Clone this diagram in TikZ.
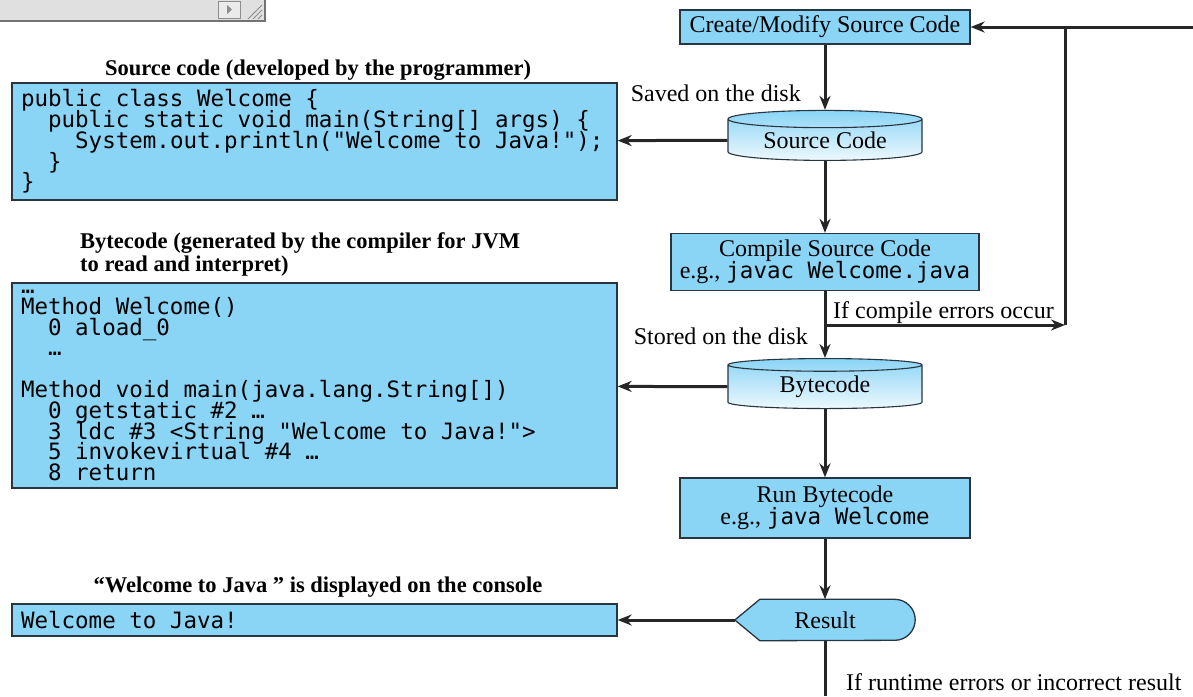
\documentclass[tikz,border=0pt]{standalone}
\usepackage{fontspec}
\setmainfont{Liberation Serif}
\setmonofont{DejaVu Sans Mono}
\usetikzlibrary{arrows.meta,shapes.geometric,backgrounds}
\definecolor{jblue}{RGB}{138,212,246}
\definecolor{jedge}{RGB}{40,52,62}
\newcommand{\lbl}{\fontsize{24}{22.5}\selectfont\lineskiplimit=-100pt}
\newcommand{\ttl}{\fontsize{22.5}{23}\selectfont\bfseries}
\newcommand{\cde}{\fontsize{22.5}{20.8}\selectfont\ttfamily\lineskiplimit=-100pt}
\newcommand{\ind}[1]{\phantom{#1}}
\tikzset{
  procbox/.style={draw=jedge, line width=1.3pt, fill=jblue, align=center,
    font=\lbl, inner sep=0pt},
  codebox/.style={draw=jedge, line width=1.3pt, fill=jblue, align=left,
    font=\cde, inner xsep=9pt, inner ysep=0pt, text width=587pt,
    minimum width=605pt,
    execute at begin node={\spaceskip=0pt\xspaceskip=0pt\rightskip=0pt plus 1fil}},
  disk/.style={cylinder, shape border rotate=90, aspect=0.14, draw=jedge,
    line width=1.1pt, top color=jblue, bottom color=jblue!15,
    minimum width=194pt, minimum height=50pt, font=\lbl, inner sep=0pt},
  flow/.style={line width=3pt, draw=black!85, >={Stealth[length=14pt,width=11pt]}},
  note/.style={font=\lbl, inner sep=0pt},
  title/.style={font=\ttl, inner sep=0pt, align=left}
}

\begin{document}
\begin{tikzpicture}[x=1pt,y=-1pt]
  \useasboundingbox (0,0) rectangle (1193,696);
  \def\xm{825}
  % window scrollbar remains, top left
  \fill[black!12] (0,0) rectangle (265,21);
  \draw[black!55, line width=1.5pt] (0,21) -- (265,21) -- (265,0);
  \draw[black!45, fill=black!8, line width=0.8pt] (218,1) rectangle (240,18);
  \fill[black!45] (227,5) -- (232,9.5) -- (227,14) -- cycle;
  \foreach \d in {0,5,10}
    \draw[black!45, line width=1pt] (248+\d,19) -- (262,5+\d);

  % main flow
  \node[procbox, minimum width=290pt, minimum height=34pt] (create) at (\xm,27)
    {Create/Modify Source Code};
  \node[disk] (srcdisk) at (\xm,140) {Source Code};
  \node[procbox, minimum width=308pt, minimum height=57pt] (compile) at (\xm,262)
    {Compile Source Code\\e.g., {\fontsize{22.5}{22.5}\selectfont\ttfamily javac Welcome.java}};
  \node[disk] (bcdisk) at (\xm,387) {Bytecode};
  \node[procbox, minimum width=290pt, minimum height=60pt] (run) at (\xm,508)
    {Run Bytecode\\e.g., {\fontsize{22.5}{22.5}\selectfont\ttfamily java Welcome}};
  \node[note, minimum width=180pt, minimum height=41pt] (res) at (\xm,620) {Result};
  \begin{scope}[on background layer]
    \draw[draw=jedge, line width=1.3pt, fill=jblue]
      (res.west) -- ([xshift=25pt]res.north west)
      -- ([xshift=-20.5pt]res.north east)
      arc[start angle=90, end angle=-90, radius=20.5pt]
      -- ([xshift=25pt]res.south west) -- cycle;
  \end{scope}

  % left column
  \node[title] (srcttl) at (318,70) {Source code (developed by the programmer)};
  \node[codebox, minimum height=117pt] (srcbox) at (314.5,141.5)
    {public class Welcome \{\\
     \ind{xx}public static void main(String[] args) \{\\
     \ind{xxxx}System.out.println("Welcome to Java!");\\
     \ind{xx}\}\\
     \}};
  \node[title, anchor=west] (bcttl) at (80,254)
    {Bytecode (generated by the compiler for JVM\\to read and interpret)};
  \node[codebox, minimum height=205pt] (bcbox) at (314.5,385.5)
    {…\\
     Method Welcome()\\
     \ind{xx}0 aload\_0\\
     \ind{xx}…\\[20.8pt]
     Method void main(java.lang.String[])\\
     \ind{xx}0 getstatic \#2 …\\
     \ind{xx}3 ldc \#3 <String "Welcome to Java!">\\
     \ind{xx}5 invokevirtual \#4 …\\
     \ind{xx}8 return};
  \node[title] (conttl) at (318,587) {“Welcome to Java ” is displayed on the console};
  \node[codebox, minimum height=32pt] (conbox) at (314.5,620) {Welcome to Java!};

  % labels
  \node[note, anchor=east] (saved) at (801,93) {Saved on the disk};
  \node[note, anchor=east] (stored) at (808,336) {Stored on the disk};
  \node[note, anchor=west] (cerr) at (833,313) {If compile errors occur};
  \node[note, anchor=west] (rerr) at (846,682) {If runtime errors or incorrect result};

  % connectors
  \coordinate (br) at (\xm,325);
  \coordinate (brr) at (1065,325);
  \coordinate (tr) at (1065,27);
  \coordinate (redge) at (1193,27);
  \coordinate (bot) at (\xm,696);
  \draw[flow,->] (create) -- (srcdisk);
  \draw[flow,->] (srcdisk) -- (srcbox);
  \draw[flow,->] (srcdisk) -- (compile);
  \draw[flow,->] (compile) -- (bcdisk);
  \draw[flow,->] (br) -- (brr);
  \draw[flow] (brr) -- (tr) -- (redge);
  \draw[flow,->] (tr) -- (create);
  \draw[flow,->] (bcdisk) -- (bcbox);
  \draw[flow,->] (bcdisk) -- (run);
  \draw[flow,->] (run) -- (res);
  \draw[flow,->] (res) -- (conbox);
  \draw[flow] (res) -- (bot);
\end{tikzpicture}
\end{document}
